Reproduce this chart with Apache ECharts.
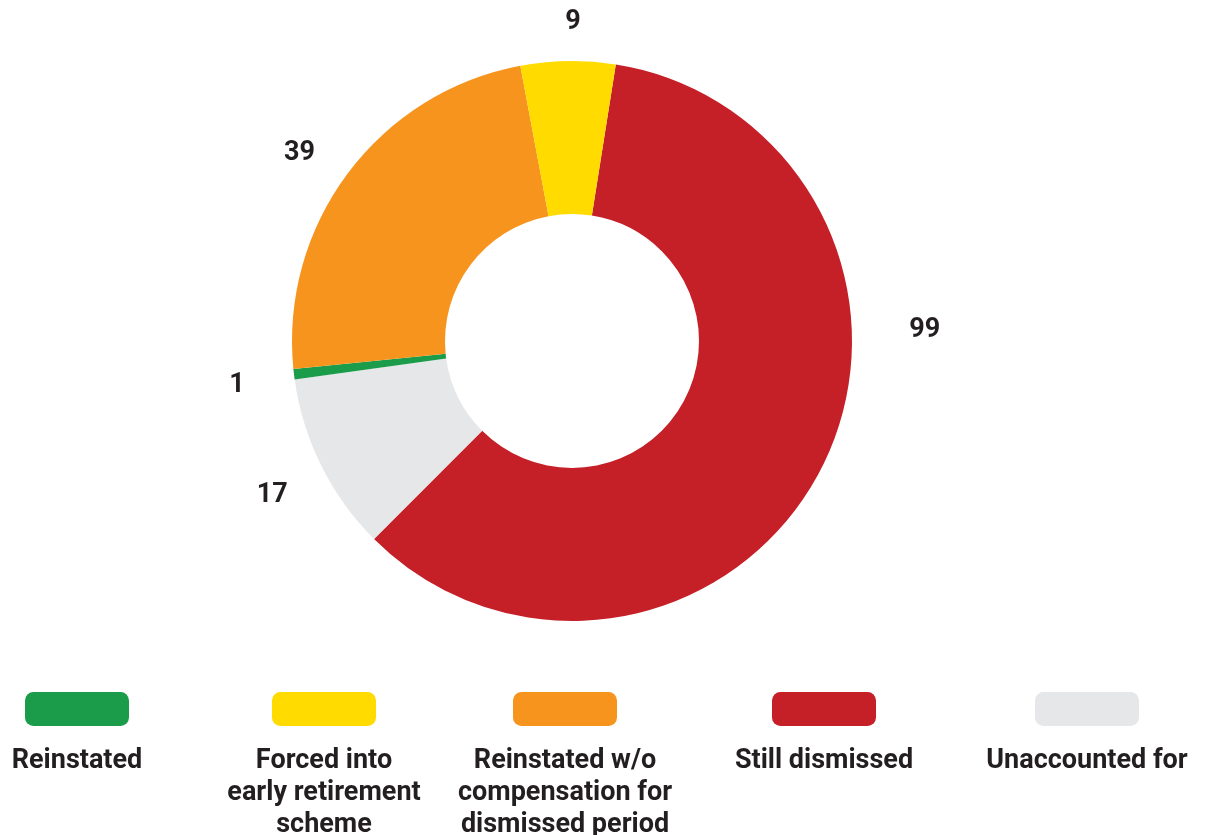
<!DOCTYPE html>
<html>
<head>
<meta charset="utf-8">
<script src="https://cdn.jsdelivr.net/npm/echarts@6/dist/echarts.min.js"></script>
<style>
  html, body { margin: 0; padding: 0; background: #ffffff; }
  #chart { width: 1205px; height: 835px; }
</style>
</head>
<body>
<div id="chart"></div>
<script>
// ---- Data ----
const sliceNames = ['Still dismissed', 'Unaccounted for', 'Reinstated', 'Reinstated w/o compensation for dismissed period', 'Forced into early retirement scheme'];
const sliceValues = [99, 17, 1, 39, 9];
const legendNames = ['Reinstated', 'Forced into early retirement scheme', 'Reinstated w/o compensation for dismissed period', 'Still dismissed', 'Unaccounted for'];
const legendLines = [['Reinstated'], ['Forced into', 'early retirement', 'scheme'], ['Reinstated w/o', 'compensation for', 'dismissed period'], ['Still dismissed'], ['Unaccounted for']];
const colorByName = {
  'Reinstated': '#1B9C4A',
  'Forced into early retirement scheme': '#FFDB00',
  'Reinstated w/o compensation for dismissed period': '#F7941E',
  'Still dismissed': '#C51F28',
  'Unaccounted for': '#E6E7E8'
};

// ---- Layout ----
const CX = 572, CY = 341, R_IN = 127, R_OUT = 280;
const START = 81; // degrees, ECharts convention
// per-slice label placement: distance from centre and small angle nudge (degrees)
const labelRadius = [353, 337, 338, 331, 319];
const labelNudge = [0, -0.7, -0.7, -2.2, 1.0];
const legendCenters = [77, 324, 565, 824, 1087];
const ICON_W = 104, ICON_H = 34, ICON_TOP = 692, TEXT_TOP = 745;
const FONT = 'Roboto, "Open Sans", "DejaVu Sans", sans-serif';
const TEXT_COLOR = '#231F20';

const total = sliceValues.reduce((a, b) => a + b, 0);
const labelPos = [];
(function () {
  let cum = 0;
  const topOffset = 90 - START;
  sliceValues.forEach((v, i) => {
    let a = topOffset + (cum + v / 2) / total * 360 + labelNudge[i];
    if (i === 0) { a = 88.2; } // largest slice label sits at 3 o'clock
    const r = labelRadius[i];
    const rad = a * Math.PI / 180;
    labelPos.push([CX + r * Math.sin(rad), CY - r * Math.cos(rad)]);
    cum += v;
  });
})();

const chart = echarts.init(document.getElementById('chart'), null, { renderer: 'canvas' });

const legends = legendNames.map((name, i) => ({
  data: [{ name: name, icon: 'roundRect' }],
  left: legendCenters[i] - ICON_W / 2,
  top: ICON_TOP,
  itemWidth: ICON_W,
  itemHeight: ICON_H,
  itemGap: 0,
  padding: 0,
  selectedMode: false,
  formatter: () => '',
  textStyle: { fontSize: 1, padding: 0 }
}));

const graphicTexts = legendNames.map((name, i) => ({
  type: 'text',
  x: legendCenters[i],
  y: TEXT_TOP,
  style: {
    text: legendLines[i].join('\n'),
    fill: TEXT_COLOR,
    font: 'bold 27px ' + FONT,
    textAlign: 'center',
    textVerticalAlign: 'top',
    lineHeight: 32
  }
}));

chart.setOption({
  backgroundColor: '#ffffff',
  animation: false,
  legend: legends,
  graphic: graphicTexts,
  series: [{
    type: 'pie',
    center: [CX, CY],
    radius: [R_IN, R_OUT],
    startAngle: START,
    clockwise: true,
    avoidLabelOverlap: false,
    itemStyle: { borderWidth: 0 },
    emphasis: { disabled: true },
    label: {
      show: true,
      position: 'outside',
      formatter: '{c}',
      color: TEXT_COLOR,
      fontSize: 27,
      fontWeight: 'bold',
      fontFamily: FONT
    },
    labelLine: { show: false },
    labelLayout: function (params) {
      const p = labelPos[params.dataIndex];
      return { x: p[0], y: p[1], align: 'center', verticalAlign: 'middle' };
    },
    data: sliceNames.map((n, i) => ({ name: n, value: sliceValues[i], itemStyle: { color: colorByName[n] } }))
  }]
});
</script>
</body>
</html>
